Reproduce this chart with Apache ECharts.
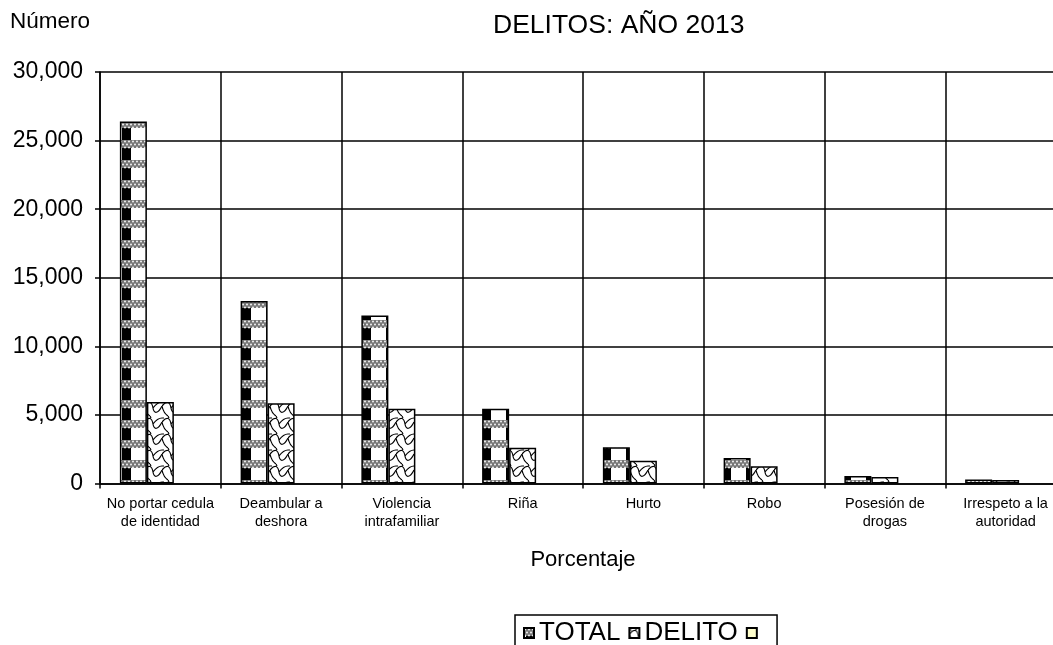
<!DOCTYPE html>
<html>
<head>
<meta charset="utf-8">
<script src="https://cdn.jsdelivr.net/npm/echarts@6/dist/echarts.min.js"></script>
<style>
html,body{margin:0;padding:0;background:#fff;overflow:hidden;width:1053px;height:645px;}
#chart{width:1066px;height:645px;}
</style>
</head>
<body>
<div id="chart"></div>
<script>
var categories = ['No portar cedula\nde identidad', 'Deambular a\ndeshora', 'Violencia\nintrafamiliar', 'Riña', 'Hurto', 'Robo', 'Posesión de\ndrogas', 'Irrespeto a la\nautoridad'];
var totalValues = [26400, 13300, 12250, 5450, 2650, 1850, 550, 300];
var delitoValues = [5950, 5850, 5450, 2600, 1650, 1250, 480, 260];
var thirdValues = ['-', '-', '-', '-', '-', '-', '-', '-'];
var yTicks = {min: 0, max: 30000, interval: 5000};

function totalPattern() {
  var c = document.createElement('canvas');
  c.width = 24; c.height = 20;
  var g = c.getContext('2d');
  g.fillStyle = '#fff'; g.fillRect(0, 0, 24, 20);
  g.fillStyle = '#000'; g.fillRect(2, 8, 9, 12);
  g.fillStyle = '#777'; g.fillRect(0, 0, 24, 8);
  g.fillStyle = '#fff';
  for (var x = 0; x < 24; x += 4) {
    for (var y = 1; y < 8; y += 3) {
      g.beginPath(); g.arc(x + ((y % 2) ? 1 : 3), y + 0.5, 0.9, 0, Math.PI * 2); g.fill();
    }
  }
  return c;
}
function delitoPattern() {
  var c = document.createElement('canvas');
  c.width = 18; c.height = 16;
  var g = c.getContext('2d');
  g.fillStyle = '#fff'; g.fillRect(0, 0, 18, 16);
  g.strokeStyle = '#000'; g.lineWidth = 1.2;
  g.beginPath();
  g.moveTo(0, 6); g.bezierCurveTo(5, 0, 8, 2, 9, 8); g.bezierCurveTo(10, 14, 14, 14, 18, 6);
  g.moveTo(9, 8); g.bezierCurveTo(12, 4, 15, 2, 18, 2);
  g.moveTo(0, 2); g.lineTo(2, 2);
  g.moveTo(0, 6); g.bezierCurveTo(1, 11, 3, 14, 6, 16);
  g.moveTo(6, 0); g.lineTo(7, 2);
  g.stroke();
  return c;
}

var chart = echarts.init(document.getElementById('chart'), null, {renderer: 'canvas'});
var FONT = 'Liberation Sans, Arial, sans-serif';
chart.setOption({
  animation: false,
  backgroundColor: '#fff',
  textStyle: {fontFamily: FONT, color: '#000'},
  title: {
    text: 'DELITOS: AÑO 2013',
    left: 488, top: 7,
    textStyle: {fontSize: 26.5, fontWeight: 'normal', color: '#000', fontFamily: FONT}
  },
  graphic: [{
    type: 'text', left: 10, top: 10,
    style: {text: 'Número', fontSize: 22.5, fontFamily: FONT, fill: '#000'}
  }],
  legend: {
    left: 515, top: 615,
    data: ['TOTAL', 'DELITO', ' '],
    icon: 'rect', itemWidth: 10, itemHeight: 10, itemGap: 8,
    padding: [5, 8, 5, 8],
    borderColor: '#000', borderWidth: 1.5,
    textStyle: {fontSize: 26, color: '#000', fontFamily: FONT},
    selectedMode: false
  },
  grid: {left: 100, top: 72, right: 0, height: 411.5, containLabel: false},
  xAxis: {
    type: 'category',
    data: categories,
    boundaryGap: true,
    name: 'Porcentaje',
    nameLocation: 'middle',
    nameGap: 65,
    nameTextStyle: {fontSize: 22, color: '#000', fontFamily: FONT},
    axisLine: {lineStyle: {color: '#000', width: 1.5}},
    axisTick: {show: true, length: 5, lineStyle: {color: '#000', width: 1.5}},
    splitLine: {show: true, lineStyle: {color: '#000', width: 1.5}},
    axisLabel: {interval: 0, fontSize: 14.5, lineHeight: 18, margin: 11, color: '#000', fontFamily: FONT}
  },
  yAxis: {
    type: 'value',
    min: yTicks.min, max: yTicks.max, interval: yTicks.interval,
    axisLine: {show: true, lineStyle: {color: '#000', width: 1.5}},
    axisTick: {show: true, length: 5, lineStyle: {color: '#000', width: 1.5}},
    splitLine: {show: true, lineStyle: {color: '#000', width: 1.5}},
    axisLabel: {
      fontSize: 23, margin: 17, color: '#000', fontFamily: FONT,
      formatter: function (v) { return v.toLocaleString('en-US'); }
    }
  },
  series: [{
    name: 'TOTAL', type: 'bar', data: totalValues,
    barWidth: 27, barGap: '0%',
    itemStyle: {color: {image: totalPattern(), repeat: 'repeat'}, borderColor: '#000', borderWidth: 1.5}
  }, {
    name: 'DELITO', type: 'bar', data: delitoValues,
    barWidth: 27, barGap: '0%',
    itemStyle: {color: {image: delitoPattern(), repeat: 'repeat'}, borderColor: '#000', borderWidth: 1.5}
  }, {
    name: ' ', type: 'bar', data: thirdValues,
    barWidth: 27, barGap: '0%',
    itemStyle: {color: '#FFFFCC', borderColor: '#000', borderWidth: 1.5}
  }]
});
</script>
</body>
</html>
